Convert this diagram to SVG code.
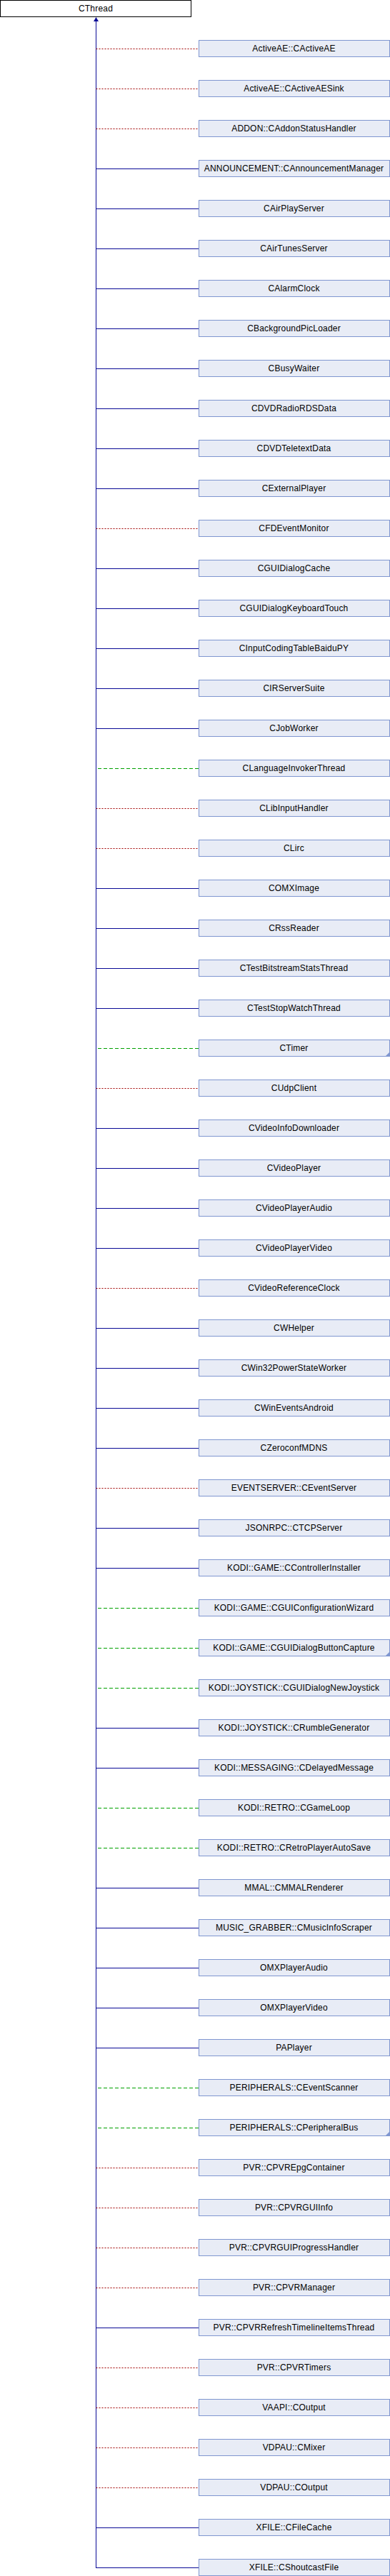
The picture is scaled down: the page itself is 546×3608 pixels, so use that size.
<svg xmlns="http://www.w3.org/2000/svg" width="546" height="3608" viewBox="0 0 546 3608">
<style>
.bg{fill:#ffffff}
.base{fill:#ffffff;stroke:#000000;stroke-width:1}
.box{fill:#e8ecf6;stroke:#7f96d0;stroke-width:1}
.more{fill:#7f96d0;stroke:none}
.t{font-family:"Liberation Sans",Arial,sans-serif;font-size:12px;letter-spacing:0.2px;fill:#000000;text-anchor:middle}
.trunk{stroke:#0a0a96;stroke-width:1;fill:none}
.pub{stroke:#0a0a96;stroke-width:1;fill:none}
.prot{stroke:#00a000;stroke-width:1;fill:none;stroke-dasharray:5,3}
.priv{stroke:#a00000;stroke-width:1;fill:none;stroke-dasharray:2,2}
.arrow{fill:#0a0a96;stroke:none}
</style>
<rect class="bg" x="0" y="0" width="546" height="3608"/>
<g id="connectors">
<line class="trunk" x1="134.5" y1="28" x2="134.5" y2="3597"/>
<polygon class="arrow" points="134.5,24 138,30 131,30"/>
<line class="priv" x1="134.5" y1="68.5" x2="278" y2="68.5"/>
<line class="priv" x1="134.5" y1="124.5" x2="278" y2="124.5"/>
<line class="priv" x1="134.5" y1="180.5" x2="278" y2="180.5"/>
<line class="pub" x1="134.5" y1="236.5" x2="278" y2="236.5"/>
<line class="pub" x1="134.5" y1="292.5" x2="278" y2="292.5"/>
<line class="pub" x1="134.5" y1="348.5" x2="278" y2="348.5"/>
<line class="pub" x1="134.5" y1="404.5" x2="278" y2="404.5"/>
<line class="pub" x1="134.5" y1="460.5" x2="278" y2="460.5"/>
<line class="pub" x1="134.5" y1="516.5" x2="278" y2="516.5"/>
<line class="pub" x1="134.5" y1="572.5" x2="278" y2="572.5"/>
<line class="pub" x1="134.5" y1="628.5" x2="278" y2="628.5"/>
<line class="pub" x1="134.5" y1="684.5" x2="278" y2="684.5"/>
<line class="priv" x1="134.5" y1="740.5" x2="278" y2="740.5"/>
<line class="pub" x1="134.5" y1="796.5" x2="278" y2="796.5"/>
<line class="pub" x1="134.5" y1="852.5" x2="278" y2="852.5"/>
<line class="pub" x1="134.5" y1="908.5" x2="278" y2="908.5"/>
<line class="pub" x1="134.5" y1="964.5" x2="278" y2="964.5"/>
<line class="pub" x1="134.5" y1="1020.5" x2="278" y2="1020.5"/>
<line class="prot" x1="137" y1="1076.5" x2="278" y2="1076.5"/>
<line class="priv" x1="134.5" y1="1132.5" x2="278" y2="1132.5"/>
<line class="priv" x1="134.5" y1="1188.5" x2="278" y2="1188.5"/>
<line class="pub" x1="134.5" y1="1244.5" x2="278" y2="1244.5"/>
<line class="pub" x1="134.5" y1="1300.5" x2="278" y2="1300.5"/>
<line class="pub" x1="134.5" y1="1356.5" x2="278" y2="1356.5"/>
<line class="pub" x1="134.5" y1="1412.5" x2="278" y2="1412.5"/>
<line class="prot" x1="137" y1="1468.5" x2="278" y2="1468.5"/>
<line class="priv" x1="134.5" y1="1524.5" x2="278" y2="1524.5"/>
<line class="pub" x1="134.5" y1="1580.5" x2="278" y2="1580.5"/>
<line class="pub" x1="134.5" y1="1636.5" x2="278" y2="1636.5"/>
<line class="pub" x1="134.5" y1="1692.5" x2="278" y2="1692.5"/>
<line class="pub" x1="134.5" y1="1748.5" x2="278" y2="1748.5"/>
<line class="priv" x1="134.5" y1="1804.5" x2="278" y2="1804.5"/>
<line class="pub" x1="134.5" y1="1860.5" x2="278" y2="1860.5"/>
<line class="pub" x1="134.5" y1="1916.5" x2="278" y2="1916.5"/>
<line class="pub" x1="134.5" y1="1972.5" x2="278" y2="1972.5"/>
<line class="pub" x1="134.5" y1="2028.5" x2="278" y2="2028.5"/>
<line class="priv" x1="134.5" y1="2084.5" x2="278" y2="2084.5"/>
<line class="pub" x1="134.5" y1="2140.5" x2="278" y2="2140.5"/>
<line class="pub" x1="134.5" y1="2196.5" x2="278" y2="2196.5"/>
<line class="prot" x1="137" y1="2252.5" x2="278" y2="2252.5"/>
<line class="prot" x1="137" y1="2308.5" x2="278" y2="2308.5"/>
<line class="prot" x1="137" y1="2364.5" x2="278" y2="2364.5"/>
<line class="pub" x1="134.5" y1="2420.5" x2="278" y2="2420.5"/>
<line class="pub" x1="134.5" y1="2476.5" x2="278" y2="2476.5"/>
<line class="prot" x1="137" y1="2532.5" x2="278" y2="2532.5"/>
<line class="prot" x1="137" y1="2588.5" x2="278" y2="2588.5"/>
<line class="pub" x1="134.5" y1="2644.5" x2="278" y2="2644.5"/>
<line class="pub" x1="134.5" y1="2700.5" x2="278" y2="2700.5"/>
<line class="pub" x1="134.5" y1="2756.5" x2="278" y2="2756.5"/>
<line class="pub" x1="134.5" y1="2812.5" x2="278" y2="2812.5"/>
<line class="pub" x1="134.5" y1="2868.5" x2="278" y2="2868.5"/>
<line class="prot" x1="137" y1="2924.5" x2="278" y2="2924.5"/>
<line class="prot" x1="137" y1="2980.5" x2="278" y2="2980.5"/>
<line class="priv" x1="134.5" y1="3036.5" x2="278" y2="3036.5"/>
<line class="priv" x1="134.5" y1="3092.5" x2="278" y2="3092.5"/>
<line class="priv" x1="134.5" y1="3148.5" x2="278" y2="3148.5"/>
<line class="priv" x1="134.5" y1="3204.5" x2="278" y2="3204.5"/>
<line class="pub" x1="134.5" y1="3260.5" x2="278" y2="3260.5"/>
<line class="priv" x1="134.5" y1="3316.5" x2="278" y2="3316.5"/>
<line class="priv" x1="134.5" y1="3372.5" x2="278" y2="3372.5"/>
<line class="priv" x1="134.5" y1="3428.5" x2="278" y2="3428.5"/>
<line class="priv" x1="134.5" y1="3484.5" x2="278" y2="3484.5"/>
<line class="pub" x1="134.5" y1="3540.5" x2="278" y2="3540.5"/>
<line class="pub" x1="134.5" y1="3596.5" x2="278" y2="3596.5"/>
</g>
<g id="CThread"><rect class="base" x="0.5" y="0.5" width="267" height="23"/><text class="t" x="134" y="16">CThread</text></g>
<g id="ActiveAE_CActiveAE" transform="translate(278,56)"><rect class="box" x="0.5" y="0.5" width="267" height="23"/><text class="t" x="133.5" y="16">ActiveAE::CActiveAE</text></g>
<g id="ActiveAE_CActiveAESink" transform="translate(278,112)"><rect class="box" x="0.5" y="0.5" width="267" height="23"/><text class="t" x="133.5" y="16">ActiveAE::CActiveAESink</text></g>
<g id="ADDON_CAddonStatusHandler" transform="translate(278,168)"><rect class="box" x="0.5" y="0.5" width="267" height="23"/><text class="t" x="133.5" y="16">ADDON::CAddonStatusHandler</text></g>
<g id="ANNOUNCEMENT_CAnnouncementManager" transform="translate(278,224)"><rect class="box" x="0.5" y="0.5" width="267" height="23"/><text class="t" x="133.5" y="16">ANNOUNCEMENT::CAnnouncementManager</text></g>
<g id="CAirPlayServer" transform="translate(278,280)"><rect class="box" x="0.5" y="0.5" width="267" height="23"/><text class="t" x="133.5" y="16">CAirPlayServer</text></g>
<g id="CAirTunesServer" transform="translate(278,336)"><rect class="box" x="0.5" y="0.5" width="267" height="23"/><text class="t" x="133.5" y="16">CAirTunesServer</text></g>
<g id="CAlarmClock" transform="translate(278,392)"><rect class="box" x="0.5" y="0.5" width="267" height="23"/><text class="t" x="133.5" y="16">CAlarmClock</text></g>
<g id="CBackgroundPicLoader" transform="translate(278,448)"><rect class="box" x="0.5" y="0.5" width="267" height="23"/><text class="t" x="133.5" y="16">CBackgroundPicLoader</text></g>
<g id="CBusyWaiter" transform="translate(278,504)"><rect class="box" x="0.5" y="0.5" width="267" height="23"/><text class="t" x="133.5" y="16">CBusyWaiter</text></g>
<g id="CDVDRadioRDSData" transform="translate(278,560)"><rect class="box" x="0.5" y="0.5" width="267" height="23"/><text class="t" x="133.5" y="16">CDVDRadioRDSData</text></g>
<g id="CDVDTeletextData" transform="translate(278,616)"><rect class="box" x="0.5" y="0.5" width="267" height="23"/><text class="t" x="133.5" y="16">CDVDTeletextData</text></g>
<g id="CExternalPlayer" transform="translate(278,672)"><rect class="box" x="0.5" y="0.5" width="267" height="23"/><text class="t" x="133.5" y="16">CExternalPlayer</text></g>
<g id="CFDEventMonitor" transform="translate(278,728)"><rect class="box" x="0.5" y="0.5" width="267" height="23"/><text class="t" x="133.5" y="16">CFDEventMonitor</text></g>
<g id="CGUIDialogCache" transform="translate(278,784)"><rect class="box" x="0.5" y="0.5" width="267" height="23"/><text class="t" x="133.5" y="16">CGUIDialogCache</text></g>
<g id="CGUIDialogKeyboardTouch" transform="translate(278,840)"><rect class="box" x="0.5" y="0.5" width="267" height="23"/><text class="t" x="133.5" y="16">CGUIDialogKeyboardTouch</text></g>
<g id="CInputCodingTableBaiduPY" transform="translate(278,896)"><rect class="box" x="0.5" y="0.5" width="267" height="23"/><text class="t" x="133.5" y="16">CInputCodingTableBaiduPY</text></g>
<g id="CIRServerSuite" transform="translate(278,952)"><rect class="box" x="0.5" y="0.5" width="267" height="23"/><text class="t" x="133.5" y="16">CIRServerSuite</text></g>
<g id="CJobWorker" transform="translate(278,1008)"><rect class="box" x="0.5" y="0.5" width="267" height="23"/><text class="t" x="133.5" y="16">CJobWorker</text></g>
<g id="CLanguageInvokerThread" transform="translate(278,1064)"><rect class="box" x="0.5" y="0.5" width="267" height="23"/><text class="t" x="133.5" y="16">CLanguageInvokerThread</text></g>
<g id="CLibInputHandler" transform="translate(278,1120)"><rect class="box" x="0.5" y="0.5" width="267" height="23"/><text class="t" x="133.5" y="16">CLibInputHandler</text></g>
<g id="CLirc" transform="translate(278,1176)"><rect class="box" x="0.5" y="0.5" width="267" height="23"/><text class="t" x="133.5" y="16">CLirc</text></g>
<g id="COMXImage" transform="translate(278,1232)"><rect class="box" x="0.5" y="0.5" width="267" height="23"/><text class="t" x="133.5" y="16">COMXImage</text></g>
<g id="CRssReader" transform="translate(278,1288)"><rect class="box" x="0.5" y="0.5" width="267" height="23"/><text class="t" x="133.5" y="16">CRssReader</text></g>
<g id="CTestBitstreamStatsThread" transform="translate(278,1344)"><rect class="box" x="0.5" y="0.5" width="267" height="23"/><text class="t" x="133.5" y="16">CTestBitstreamStatsThread</text></g>
<g id="CTestStopWatchThread" transform="translate(278,1400)"><rect class="box" x="0.5" y="0.5" width="267" height="23"/><text class="t" x="133.5" y="16">CTestStopWatchThread</text></g>
<g id="CTimer" transform="translate(278,1456)"><rect class="box" x="0.5" y="0.5" width="267" height="23"/><polygon class="more" points="267,18 267,23.5 261.5,23.5"/><text class="t" x="133.5" y="16">CTimer</text></g>
<g id="CUdpClient" transform="translate(278,1512)"><rect class="box" x="0.5" y="0.5" width="267" height="23"/><text class="t" x="133.5" y="16">CUdpClient</text></g>
<g id="CVideoInfoDownloader" transform="translate(278,1568)"><rect class="box" x="0.5" y="0.5" width="267" height="23"/><text class="t" x="133.5" y="16">CVideoInfoDownloader</text></g>
<g id="CVideoPlayer" transform="translate(278,1624)"><rect class="box" x="0.5" y="0.5" width="267" height="23"/><text class="t" x="133.5" y="16">CVideoPlayer</text></g>
<g id="CVideoPlayerAudio" transform="translate(278,1680)"><rect class="box" x="0.5" y="0.5" width="267" height="23"/><text class="t" x="133.5" y="16">CVideoPlayerAudio</text></g>
<g id="CVideoPlayerVideo" transform="translate(278,1736)"><rect class="box" x="0.5" y="0.5" width="267" height="23"/><text class="t" x="133.5" y="16">CVideoPlayerVideo</text></g>
<g id="CVideoReferenceClock" transform="translate(278,1792)"><rect class="box" x="0.5" y="0.5" width="267" height="23"/><text class="t" x="133.5" y="16">CVideoReferenceClock</text></g>
<g id="CWHelper" transform="translate(278,1848)"><rect class="box" x="0.5" y="0.5" width="267" height="23"/><text class="t" x="133.5" y="16">CWHelper</text></g>
<g id="CWin32PowerStateWorker" transform="translate(278,1904)"><rect class="box" x="0.5" y="0.5" width="267" height="23"/><text class="t" x="133.5" y="16">CWin32PowerStateWorker</text></g>
<g id="CWinEventsAndroid" transform="translate(278,1960)"><rect class="box" x="0.5" y="0.5" width="267" height="23"/><text class="t" x="133.5" y="16">CWinEventsAndroid</text></g>
<g id="CZeroconfMDNS" transform="translate(278,2016)"><rect class="box" x="0.5" y="0.5" width="267" height="23"/><text class="t" x="133.5" y="16">CZeroconfMDNS</text></g>
<g id="EVENTSERVER_CEventServer" transform="translate(278,2072)"><rect class="box" x="0.5" y="0.5" width="267" height="23"/><text class="t" x="133.5" y="16">EVENTSERVER::CEventServer</text></g>
<g id="JSONRPC_CTCPServer" transform="translate(278,2128)"><rect class="box" x="0.5" y="0.5" width="267" height="23"/><text class="t" x="133.5" y="16">JSONRPC::CTCPServer</text></g>
<g id="KODI_GAME_CControllerInstaller" transform="translate(278,2184)"><rect class="box" x="0.5" y="0.5" width="267" height="23"/><text class="t" x="133.5" y="16">KODI::GAME::CControllerInstaller</text></g>
<g id="KODI_GAME_CGUIConfigurationWizard" transform="translate(278,2240)"><rect class="box" x="0.5" y="0.5" width="267" height="23"/><text class="t" x="133.5" y="16">KODI::GAME::CGUIConfigurationWizard</text></g>
<g id="KODI_GAME_CGUIDialogButtonCapture" transform="translate(278,2296)"><rect class="box" x="0.5" y="0.5" width="267" height="23"/><polygon class="more" points="267,18 267,23.5 261.5,23.5"/><text class="t" x="133.5" y="16">KODI::GAME::CGUIDialogButtonCapture</text></g>
<g id="KODI_JOYSTICK_CGUIDialogNewJoystick" transform="translate(278,2352)"><rect class="box" x="0.5" y="0.5" width="267" height="23"/><text class="t" x="133.5" y="16">KODI::JOYSTICK::CGUIDialogNewJoystick</text></g>
<g id="KODI_JOYSTICK_CRumbleGenerator" transform="translate(278,2408)"><rect class="box" x="0.5" y="0.5" width="267" height="23"/><text class="t" x="133.5" y="16">KODI::JOYSTICK::CRumbleGenerator</text></g>
<g id="KODI_MESSAGING_CDelayedMessage" transform="translate(278,2464)"><rect class="box" x="0.5" y="0.5" width="267" height="23"/><text class="t" x="133.5" y="16">KODI::MESSAGING::CDelayedMessage</text></g>
<g id="KODI_RETRO_CGameLoop" transform="translate(278,2520)"><rect class="box" x="0.5" y="0.5" width="267" height="23"/><text class="t" x="133.5" y="16">KODI::RETRO::CGameLoop</text></g>
<g id="KODI_RETRO_CRetroPlayerAutoSave" transform="translate(278,2576)"><rect class="box" x="0.5" y="0.5" width="267" height="23"/><text class="t" x="133.5" y="16">KODI::RETRO::CRetroPlayerAutoSave</text></g>
<g id="MMAL_CMMALRenderer" transform="translate(278,2632)"><rect class="box" x="0.5" y="0.5" width="267" height="23"/><text class="t" x="133.5" y="16">MMAL::CMMALRenderer</text></g>
<g id="MUSIC_GRABBER_CMusicInfoScraper" transform="translate(278,2688)"><rect class="box" x="0.5" y="0.5" width="267" height="23"/><text class="t" x="133.5" y="16">MUSIC_GRABBER::CMusicInfoScraper</text></g>
<g id="OMXPlayerAudio" transform="translate(278,2744)"><rect class="box" x="0.5" y="0.5" width="267" height="23"/><text class="t" x="133.5" y="16">OMXPlayerAudio</text></g>
<g id="OMXPlayerVideo" transform="translate(278,2800)"><rect class="box" x="0.5" y="0.5" width="267" height="23"/><text class="t" x="133.5" y="16">OMXPlayerVideo</text></g>
<g id="PAPlayer" transform="translate(278,2856)"><rect class="box" x="0.5" y="0.5" width="267" height="23"/><text class="t" x="133.5" y="16">PAPlayer</text></g>
<g id="PERIPHERALS_CEventScanner" transform="translate(278,2912)"><rect class="box" x="0.5" y="0.5" width="267" height="23"/><text class="t" x="133.5" y="16">PERIPHERALS::CEventScanner</text></g>
<g id="PERIPHERALS_CPeripheralBus" transform="translate(278,2968)"><rect class="box" x="0.5" y="0.5" width="267" height="23"/><polygon class="more" points="267,18 267,23.5 261.5,23.5"/><text class="t" x="133.5" y="16">PERIPHERALS::CPeripheralBus</text></g>
<g id="PVR_CPVREpgContainer" transform="translate(278,3024)"><rect class="box" x="0.5" y="0.5" width="267" height="23"/><text class="t" x="133.5" y="16">PVR::CPVREpgContainer</text></g>
<g id="PVR_CPVRGUIInfo" transform="translate(278,3080)"><rect class="box" x="0.5" y="0.5" width="267" height="23"/><text class="t" x="133.5" y="16">PVR::CPVRGUIInfo</text></g>
<g id="PVR_CPVRGUIProgressHandler" transform="translate(278,3136)"><rect class="box" x="0.5" y="0.5" width="267" height="23"/><text class="t" x="133.5" y="16">PVR::CPVRGUIProgressHandler</text></g>
<g id="PVR_CPVRManager" transform="translate(278,3192)"><rect class="box" x="0.5" y="0.5" width="267" height="23"/><text class="t" x="133.5" y="16">PVR::CPVRManager</text></g>
<g id="PVR_CPVRRefreshTimelineItemsThread" transform="translate(278,3248)"><rect class="box" x="0.5" y="0.5" width="267" height="23"/><text class="t" x="133.5" y="16">PVR::CPVRRefreshTimelineItemsThread</text></g>
<g id="PVR_CPVRTimers" transform="translate(278,3304)"><rect class="box" x="0.5" y="0.5" width="267" height="23"/><text class="t" x="133.5" y="16">PVR::CPVRTimers</text></g>
<g id="VAAPI_COutput" transform="translate(278,3360)"><rect class="box" x="0.5" y="0.5" width="267" height="23"/><text class="t" x="133.5" y="16">VAAPI::COutput</text></g>
<g id="VDPAU_CMixer" transform="translate(278,3416)"><rect class="box" x="0.5" y="0.5" width="267" height="23"/><text class="t" x="133.5" y="16">VDPAU::CMixer</text></g>
<g id="VDPAU_COutput" transform="translate(278,3472)"><rect class="box" x="0.5" y="0.5" width="267" height="23"/><text class="t" x="133.5" y="16">VDPAU::COutput</text></g>
<g id="XFILE_CFileCache" transform="translate(278,3528)"><rect class="box" x="0.5" y="0.5" width="267" height="23"/><text class="t" x="133.5" y="16">XFILE::CFileCache</text></g>
<g id="XFILE_CShoutcastFile" transform="translate(278,3584)"><rect class="box" x="0.5" y="0.5" width="267" height="23"/><text class="t" x="133.5" y="16">XFILE::CShoutcastFile</text></g>
</svg>
